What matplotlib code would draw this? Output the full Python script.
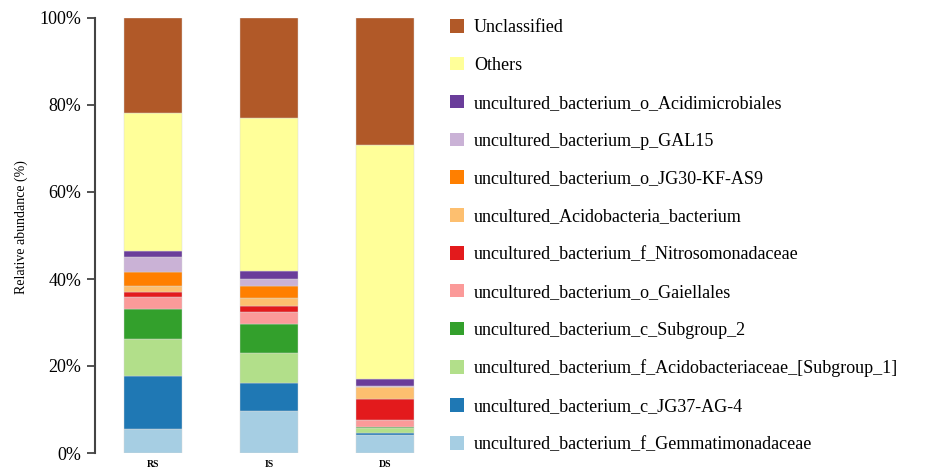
import numpy as np
import matplotlib
matplotlib.use("Agg")
import matplotlib.pyplot as plt
from matplotlib.patches import Patch

plt.rcParams['font.family'] = ['Liberation Serif', 'DejaVu Serif']

samples = ["RS", "IS", "DS"]

# taxa listed from the bottom of each stack upwards
taxa = [
    "uncultured_bacterium_f_Gemmatimonadaceae",
    "uncultured_bacterium_c_JG37-AG-4",
    "uncultured_bacterium_f_Acidobacteriaceae_[Subgroup_1]",
    "uncultured_bacterium_c_Subgroup_2",
    "uncultured_bacterium_o_Gaiellales",
    "uncultured_bacterium_f_Nitrosomonadaceae",
    "uncultured_Acidobacteria_bacterium",
    "uncultured_bacterium_o_JG30-KF-AS9",
    "uncultured_bacterium_p_GAL15",
    "uncultured_bacterium_o_Acidimicrobiales",
    "Others",
    "Unclassified",
]

colors = ["#A6CEE3", "#1F78B4", "#B2DF8A", "#33A02C", "#FB9A99", "#E31A1C",
          "#FDBF6F", "#FF7F00", "#CAB2D6", "#6A3D9A", "#FFFF99", "#B15928"]

# relative abundance (%) per taxon, same order as taxa
rs = [5.6, 12.2, 8.4, 7.0, 2.6, 1.1, 1.6, 3.1, 3.4, 1.4, 31.8, 21.8]
is_ = [9.6, 6.6, 6.9, 6.6, 2.6, 1.4, 2.0, 2.6, 1.7, 1.9, 35.0, 23.1]
ds = [4.1, 0.4, 1.2, 0.3, 1.5, 4.8, 2.8, 0.1, 0.1, 1.8, 53.6, 29.3]

data = np.array([rs, is_, ds]).T

W, H = 931, 471
fig = plt.figure(figsize=(W / 100, H / 100), dpi=100)
ax = fig.add_axes([95 / W, (H - 453) / H, 336 / W, 435 / H])

x = np.arange(len(samples))
bottom = np.zeros(len(samples))
for vals, col in zip(data, colors):
    ax.bar(x, vals, bottom=bottom, width=0.5, color=col,
           edgecolor="#d8d8d8", linewidth=0.3)
    bottom += vals

ax.set_xlim(-0.5, 2.4)
ax.set_ylim(0, 100)
ax.set_yticks([0, 20, 40, 60, 80, 100])
ax.set_yticklabels(["0%", "20%", "40%", "60%", "80%", "100%"], fontsize=13)
ax.set_xticks(x)
ax.set_xticklabels(samples, fontsize=7, fontweight="bold")
ax.tick_params(axis="x", length=0, pad=5)
ax.tick_params(axis="y", length=6, width=1.3, color="#444444", pad=4)
for s in ["top", "right", "bottom"]:
    ax.spines[s].set_visible(False)
ax.spines["left"].set_linewidth(1.5)
ax.spines["left"].set_color("#444444")
ax.set_ylabel("Relative abundance (%)", fontsize=10)
ax.yaxis.set_label_coords(-0.2, 0.52)

handles = [Patch(facecolor=c, edgecolor="none") for c in colors[::-1]]
fig.legend(handles, taxa[::-1], loc="upper left",
           bbox_to_anchor=(450 / W, 1 - 19 / H), frameon=False,
           fontsize=13, handlelength=0.78, handleheight=0.78,
           handletextpad=0.55, labelspacing=1.15, borderpad=0,
           borderaxespad=0)

fig.savefig("out.png", dpi=100)
